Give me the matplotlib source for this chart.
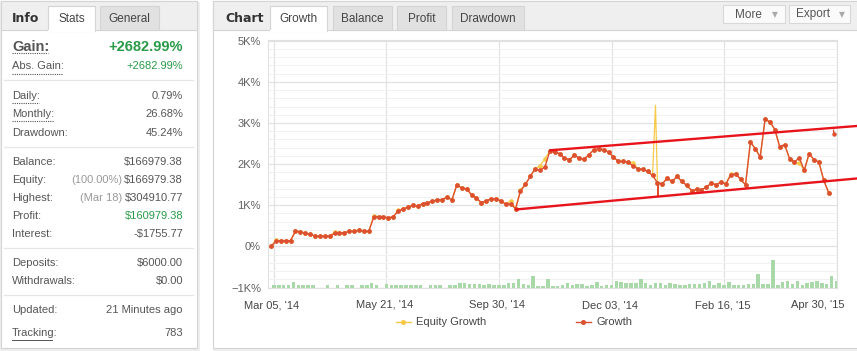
import numpy as np
import matplotlib
matplotlib.use("Agg")
import matplotlib.pyplot as plt
from matplotlib.patches import Rectangle
import matplotlib.transforms as mtransforms

plt.rcParams['font.family'] = ['Liberation Sans', 'DejaVu Sans']

# ------------------------------------------------------------ data
growth = [0, 120, 140, 140, 140, 365, 360, 317, 293, 253,
          245, 245, 245, 317, 325, 333, 365, 365, 390, 365,
          365, 708, 722, 722, 690, 722, 855, 912, 951, 1000,
          976, 1041, 1058, 1098, 1131, 1139, 1195, 1131, 1497, 1415,
          1400, 1253, 1171, 1066, 1107, 1156, 1156, 1107, 1025, 1033,
          912, 1342, 1505, 1700, 1888, 1846, 1928, 2317, 2293, 2253,
          2147, 2107, 2212, 2147, 2115, 2229, 2351, 2375, 2351, 2293,
          2171, 2066, 2066, 2049, 1951, 1888, 1871, 1822, 1724, 1546,
          1522, 1659, 1578, 1700, 1578, 1480, 1358, 1383, 1375, 1439,
          1537, 1497, 1561, 1522, 1741, 1766, 1627, 1497, 2537, 2375,
          2171, 3090, 3025, 2839, 2415, 2473, 2132, 2049, 2156, 1846,
          2253, 2107, 2049, 1602, 1302]

# equity differs from growth only at a few points
equity_diff = {1: 150, 13: 340, 21: 735, 26: 875, 49: 1114, 51: 1380,
               55: 1960, 56: 2135, 74: 2035, 94: 1770, 108: 2025}
equity_spike = (78.6, 3430)     # open-trade spike
growth_drop = (79.15, 1212)     # short drop in growth
tail_x = 115.0
tail_vals = [2822, 2741]

bars = [50, 50, 50, 50, 140, 50, 50, 50, 50, 0,
        0, 50, 0, 50, 0, 50, 50, 0, 50, 50,
        115, 50, 0, 90, 50, 50, 50, 50, 50, 50,
        50, 0, 50, 50, 50, 0, 55, 55, 115, 100,
        80, 80, 80, 55, 80, 65, 50, 55, 115, 100,
        200, 90, 65, 285, 40, 40, 210, 40, 40, 50,
        105, 55, 75, 80, 40, 55, 130, 40, 50, 55,
        155, 140, 100, 100, 115, 200, 105, 50, 100, 105,
        65, 100, 80, 50, 50, 75, 75, 90, 115, 170,
        50, 105, 50, 130, 50, 50, 55, 90, 90, 335,
        90, 90, 675, 65, 140, 155, 80, 155, 55, 105,
        140, 155, 100, 90, 270, 170]

upper_x, upper_y = [56.9, 119.8], [2334, 2927]
lower_x, lower_y = [49.9, 119.8], [895, 1651]

tick_pos = [0.6, 23.6, 46.6, 69.7, 92.7, 115.7]
tick_lbl = ["Mar 05, '14", "May 21, '14", "Sep 30, '14",
            "Dec 03, '14", "Feb 16, '15", "Apr 30, '15"]
y_ticks = [-1000, 0, 1000, 2000, 3000, 4000, 5000]
y_lbl = ["\u22121K%", "0%", "1K%", "2K%", "3K%", "4K%", "5K%"]

stats_rows = [
    ("Daily:", "", "0.79%", 96, 27),
    ("Monthly:", "", "26.68%", 114, 41),
    ("Drawdown:", "", "45.24%", 133, 0),
    ("Balance:", "", "$166979.38", 162, 0),
    ("Equity:", "(100.00%)", "$166979.38", 180, 0),
    ("Highest:", "(Mar 18)", "$304910.77", 198, 0),
    ("Profit:", "", "$160979.38", 216, 0),
    ("Interest:", "", "-$1755.77", 234, 0),
    ("Deposits:", "", "$6000.00", 263, 0),
    ("Withdrawals:", "", "$0.00", 281, 0),
    ("Updated:", "", "21 Minutes ago", 310, 0),
]

W, H = 857, 351
fig = plt.figure(figsize=(W / 100, H / 100), dpi=100)
fig.patch.set_facecolor('white')

bg = fig.add_axes([0, 0, 1, 1])
bg.set_xlim(0, W)
bg.set_ylim(H, 0)
bg.axis('off')

TXT = '#555555'
GREEN = '#2a9a48'
BORDER = '#d4d4d4'
RED = '#dc4f30'
YEL = '#f7c948'


def box(x0, y0, x1, y1, fc, ec=BORDER, lw=0.8, z=1):
    bg.add_patch(Rectangle((x0, y0), x1 - x0, y1 - y0, fc=fc, ec=ec, lw=lw, zorder=z))


def tab(x0, x1, label, active):
    if active:
        box(x0, 6, x1, 31, 'white', z=3)
        bg.plot([x0 + 0.6, x1 - 0.6], [30.5, 30.5], color='white', lw=1.5, zorder=4)
    else:
        box(x0, 6, x1, 30, '#e1e1e1', z=3)
    bg.text((x0 + x1) / 2, 18.5, label, ha='center', va='center', fontsize=8.5,
            color='#444444', zorder=5)


# ---- left panel
box(1.5, 2.5, 199, 349.5, '#eeeeee', ec='#eeeeee', lw=1.5, z=0)   # shadow
box(0.5, 0.5, 197.5, 347.5, 'white')
box(0.5, 0.5, 197.5, 30, '#efefef', z=2)
bg.text(12, 18, "Info", fontsize=9, fontweight='bold', color='#333333', va='center',
        family='DejaVu Sans', zorder=5)
tab(48, 95, "Stats", True)
tab(100, 159, "General", False)

bg.text(12, 47, "Gain:", fontsize=10.5, fontweight='bold', color=TXT, va='center')
bg.text(183, 47, "+2682.99%", fontsize=10.5, fontweight='bold', color=GREEN,
        va='center', ha='right')
bg.plot([12, 48], [53, 53], color='#555555', lw=0.8, ls=(0, (1, 1)))
bg.text(12, 66, "Abs. Gain:", fontsize=8, color=TXT, va='center')
bg.text(183, 66, "+2682.99%", fontsize=8, color=GREEN, va='center', ha='right')
bg.plot([12, 62], [73.5, 73.5], color='#555555', lw=0.8, ls=(0, (1, 1)))

for lab, pre, val, y, ul in stats_rows:
    bg.text(12, y, lab, fontsize=8, color=TXT, va='center')
    bg.text(183, y, val, fontsize=8, va='center', ha='right',
            color=GREEN if lab == "Profit:" else TXT)
    if pre:
        bg.text(122, y, pre, fontsize=8, color='#999999', va='center', ha='right')
    if ul:
        bg.plot([12, 12 + ul], [y + 7, y + 7], color='#555555', lw=0.8,
                ls=(0, (1, 1)))

bg.text(12, 333, "Tracking:", fontsize=8, color=TXT, va='center')
bg.text(183, 333, "783", fontsize=8, color=TXT, va='center', ha='right')
bg.plot([12, 52], [339.5, 339.5], color='#555555', lw=0.7)

for y in [80, 147, 248, 295]:
    bg.plot([4, 193], [y, y], color='#e6e6e6', lw=0.9)

# ---- right panel
box(214, 2.5, 860, 349.5, '#eeeeee', ec='#eeeeee', lw=1.5, z=0)
box(213.5, 0.5, 860, 347.5, 'white')
box(213.5, 0.5, 860, 30, '#efefef', z=2)
bg.text(225, 18, "Chart", fontsize=9, fontweight='bold', color='#333333', va='center',
        family='DejaVu Sans', zorder=5)
tab(270, 327, "Growth", True)
tab(333, 392, "Balance", False)
tab(397, 446, "Profit", False)
tab(452, 524, "Drawdown", False)

for x0, x1, lab, tx, ax_ in [(723, 785, "More", 748, 775), (789, 850, "Export", 813, 842)]:
    box(x0, 5, x1, 23, '#fafafa', ec='#d8d8d8', z=3)
    bg.text(tx, 14.5, lab, fontsize=8.5, color='#555555', ha='center', va='center', zorder=5)
    bg.text(ax_, 14.5, "\u25bc", fontsize=5.5, color='#aaaaaa', ha='center', va='center',
            family='DejaVu Sans', zorder=5)

# legend
bg.plot([396, 411], [322, 322], color=YEL, lw=1.0)
bg.plot([403.5], [322], 'o', color=YEL, ms=2.6)
bg.text(416, 322, "Equity Growth", fontsize=8, color='#444444', va='center')
bg.plot([576, 591], [322, 322], color=RED, lw=1.0)
bg.plot([583.5], [322], 'o', color=RED, ms=2.6)
bg.text(597, 322, "Growth", fontsize=8, color='#444444', va='center')

# ---- chart
L, R, T, B = 268, 837, 40, 287.5
ax = fig.add_axes([L / W, 1 - B / H, (R - L) / W, (B - T) / H])
ax.set_facecolor('white')

idx = np.arange(len(growth))
equity = list(growth)
for k, v in equity_diff.items():
    equity[k] = v
spike_at = int(equity_spike[0]) + 1
eq_x = np.insert(idx.astype(float), spike_at, equity_spike[0])
eq_y = np.insert(np.array(equity, float), spike_at, equity_spike[1])
eq_marks = [i for i in range(len(eq_x)) if i != spike_at]
gr_x = np.insert(idx.astype(float), [80, 80], [growth_drop[0], growth_drop[0] + 0.05])
gr_y = np.insert(np.array(growth, float), [80, 80], [growth_drop[1], growth[79]])

ax.bar(np.arange(len(bars)) + 0.6, bars, bottom=-1000, width=0.72, color='#a9d9a9',
       zorder=2)
ax.plot(eq_x, eq_y, color=YEL, lw=0.9, marker='o', ms=2.3, markevery=eq_marks, zorder=3)
ax.plot(gr_x, gr_y, color=RED, lw=1.0, zorder=4)
ax.plot(idx, growth, ls='none', marker='o', ms=2.4, color=RED, zorder=4)
ax.plot([tail_x, tail_x + 0.05], tail_vals, color=RED, lw=1.0, marker='o',
        ms=2.2, markevery=[1], zorder=4)

ax.plot(upper_x, upper_y, color='#e8141b', lw=1.7, zorder=5, clip_on=False,
        solid_capstyle='butt')
ax.plot(lower_x, lower_y, color='#e8141b', lw=1.7, zorder=5, clip_on=False,
        solid_capstyle='butt')

ax.set_xlim(-0.6, 115.7)
ax.set_ylim(-1000, 5017)
ax.set_yticks(y_ticks)
ax.set_yticklabels(y_lbl)
ax.set_yticks(np.arange(-1000, 5001, 200), minor=True)
ax.set_xticks(tick_pos)
ax.set_xticklabels(tick_lbl)
ax.grid(which='major', color='#e2e2e2', lw=0.9, zorder=0)
ax.grid(which='minor', axis='y', color='#f1f1f1', lw=0.7, zorder=0)
ax.set_axisbelow(True)
ax.tick_params(which='both', length=0)
ax.tick_params(axis='y', pad=5, labelsize=8, labelcolor='#606060')
ax.tick_params(axis='x', pad=9, labelsize=8, labelcolor='#444444')
for s in ax.spines.values():
    s.set_color('#e0e0e0')
    s.set_linewidth(0.8)

last = ax.get_xticklabels()[-1]
last.set_ha('right')
last.set_transform(last.get_transform() +
                   mtransforms.ScaledTranslation(9 / 100, 0, fig.dpi_scale_trans))
for lbl in ax.get_xticklabels():
    lbl.set_transform(lbl.get_transform() +
                      mtransforms.ScaledTranslation(-2 / 100, 0, fig.dpi_scale_trans))

fig.savefig("out.png", dpi=100, facecolor='white')
